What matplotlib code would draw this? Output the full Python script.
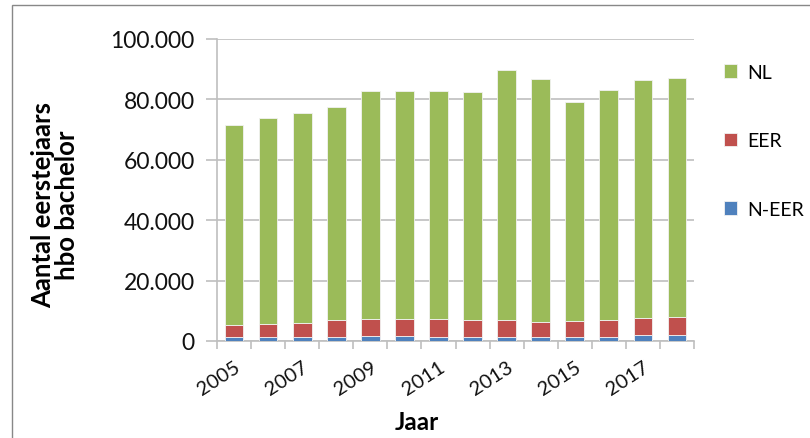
import matplotlib
matplotlib.use("Agg")
import matplotlib.pyplot as plt
from matplotlib.patches import Rectangle
import numpy as np

plt.rcParams['font.family'] = ['Lato', 'DejaVu Sans']

years = [2005, 2006, 2007, 2008, 2009, 2010, 2011, 2012, 2013, 2014, 2015, 2016, 2017, 2018]
n_eer = [1450, 1200, 1450, 1450, 1700, 1700, 1450, 1450, 1450, 1200, 1450, 1450, 1900, 2100]
eer = [3950, 4500, 4650, 5350, 5600, 5600, 5850, 5350, 5350, 5200, 5150, 5350, 5600, 5700]
nl = [66100, 68100, 69500, 70800, 75500, 75500, 75500, 75800, 83000, 80400, 72400, 76200, 79000, 79200]
series_names = ['N-EER', 'EER', 'NL']
colors = ['#4F81BD', '#C0504D', '#9BBB59']
ytick_labels = ['0', '20.000', '40.000', '60.000', '80.000', '100.000']

fig = plt.figure(figsize=(8.10, 4.39), dpi=100)
fig.patches.append(Rectangle((12/810, -0.1), 1.2, 1 - 6/439 + 0.1, transform=fig.transFigure,
                             fill=False, edgecolor='#888888', linewidth=1.0))

ax = fig.add_axes([217/810, 1 - 342/439, (694 - 217)/810, (342 - 40)/439])

x = np.arange(len(years)) + 0.5
bottom = np.zeros(len(years))
handles = {}
for name, vals, c in zip(series_names, [n_eer, eer, nl], colors):
    vals = np.array(vals, dtype=float)
    h = ax.bar(x, vals, width=0.55, bottom=bottom, color=c, edgecolor='#f2f2f2',
               linewidth=0.6, zorder=3, label=name)
    handles[name] = h
    bottom += vals

ax.set_xlim(0, len(years))
ax.set_ylim(0, 100000)
ax.set_yticks(np.arange(0, 100001, 20000))
ax.set_yticklabels(ytick_labels, fontsize=16.5, color='#111111')
ax.yaxis.grid(True, color='#BFBFBF', linewidth=1.2, zorder=0)
ax.tick_params(axis='y', length=8, color='#BFBFBF', width=1.2, pad=8)

ax.set_xticks(np.arange(0, len(years) + 1))
ax.set_xticklabels([])
ax.tick_params(axis='x', which='major', length=6, color='#BFBFBF', width=1.2)
lab_pos = x[::2]
ax.set_xticks(lab_pos, minor=True)
ax.set_xticklabels([str(y) for y in years[::2]], minor=True, rotation=33,
                   ha='right', va='top', rotation_mode='anchor', fontsize=14.5, color='#111111')
ax.tick_params(axis='x', which='minor', length=0, pad=12)

for s in ['top', 'right']:
    ax.spines[s].set_visible(False)
ax.spines['left'].set_color('#BFBFBF')
ax.spines['bottom'].set_color('#BFBFBF')
ax.spines['left'].set_linewidth(1.2)
ax.spines['bottom'].set_linewidth(1.2)

fig.text(55/810, 1 - 205/439, 'Aantal eerstejaars\nhbo bachelor', rotation=90,
         ha='center', va='center', fontsize=18.5, fontweight='bold', linespacing=1.0)
fig.text(417/810, 1 - 423/439, 'Jaar', ha='center', va='center', fontsize=17.5, fontweight='bold')

leg = ax.legend([handles['NL'], handles['EER'], handles['N-EER']], ['NL', 'EER', 'N-EER'],
                loc='upper left', bbox_to_anchor=(716/810, 1 - 57/439), bbox_transform=fig.transFigure,
                frameon=False, fontsize=14, handlelength=0.7, handleheight=0.7, handletextpad=0.5,
                labelspacing=2.65, borderaxespad=0)

fig.savefig('out.png', dpi=100)
